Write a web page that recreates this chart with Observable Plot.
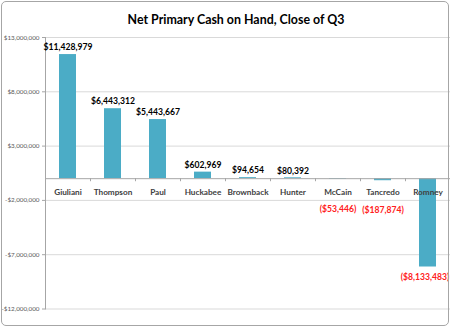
<!DOCTYPE html>
<html>
<head>
<meta charset="utf-8">
<script src="https://cdn.jsdelivr.net/npm/d3@7"></script>
<script src="https://cdn.jsdelivr.net/npm/@observablehq/plot@0.6"></script>
<style>
  html, body { margin: 0; padding: 0; background: #fff; }
  #wrap { position: relative; width: 450px; height: 327px; overflow: hidden; font-family: Lato, "Open Sans", sans-serif; }
  #title { height: 30px; box-sizing: border-box; padding-top: 13px; padding-left: 22px; text-align: center; font: bold 12.4px Lato, sans-serif; line-height: 14px; color: #000; }
  #border { position: absolute; left: 1px; top: 1px; width: 446px; height: 323px; border: 1px solid #a6a6a6; border-radius: 5px; pointer-events: none; }
  svg { display: block; overflow: visible; }
</style>
</head>
<body>
<div id="wrap">
  <div id="title">Net Primary Cash on Hand, Close of Q3</div>
  <div id="chart"></div>
  <div id="border"></div>
</div>
<script>
const candidates = ["Giuliani", "Thompson", "Paul", "Huckabee", "Brownback", "Hunter", "McCain", "Tancredo", "Romney"];
const cash = [11428979, 6443312, 5443667, 602969, 94654, 80392, -53446, -187874, -8133483];
const yTicks = [-12000000, -7000000, -2000000, 3000000, 8000000, 13000000];

const data = candidates.map((c, i) => ({name: c, value: cash[i]}));
const money = v => (v < 0 ? "-$" : "$") + d3.format(",")(Math.abs(v));
const label = v => v < 0 ? "($" + d3.format(",")(-v) + ")" : "$" + d3.format(",")(v);

const chart = Plot.plot({
  width: 450,
  height: 297,
  marginTop: 7,
  marginBottom: 18.5,
  marginLeft: 45,
  marginRight: 0,
  style: {fontFamily: "Lato, sans-serif", background: "transparent", overflow: "visible"},
  x: {domain: candidates, paddingInner: 0.622, paddingOuter: 0.311, axis: null},
  y: {domain: [-12000000, 13000000], axis: null},
  marks: [
    Plot.gridY(yTicks, {stroke: "#d9d9d9", strokeOpacity: 1}),
    Plot.axisY(yTicks, {label: null, tickFormat: money, tickSize: 3, tickPadding: 3, stroke: "#a6a6a6", fill: "#595959", fontSize: 6.3, fontFamily: "Lato, sans-serif"}),
    Plot.frame({anchor: "left", stroke: "#a6a6a6"}),
    Plot.barY(data, {x: "name", y: "value", fill: "#4bacc6"}),
    Plot.ruleY([0], {stroke: "#a6a6a6"}),
    Plot.ruleX(data, {x: "name", y1: 0, y2: -280000, dx: 22.5, stroke: "#a6a6a6"}),
    Plot.text(data, {x: "name", y: () => 0, text: "name", dy: 14, fontWeight: "bold", fontSize: 8.2, fill: "#404040"}),
    Plot.text(data.filter(d => d.value >= 0), {x: "name", y: "value", text: d => label(d.value), dy: -7, fontWeight: "bold", fontSize: 8.6, fill: "#000"}),
    Plot.text(data.filter(d => d.value < 0 && d.value > -1000000), {x: "name", y: "value", text: d => label(d.value), dy: 30, fontWeight: "bold", fontSize: 8.6, fill: "#ff2020"}),
    Plot.text(data.filter(d => d.value <= -1000000), {x: "name", y: "value", text: d => label(d.value), dy: 10, dx: -3, fontWeight: "bold", fontSize: 8.6, fill: "#ff2020"})
  ]
});
document.getElementById("chart").appendChild(chart);
</script>
</body>
</html>
